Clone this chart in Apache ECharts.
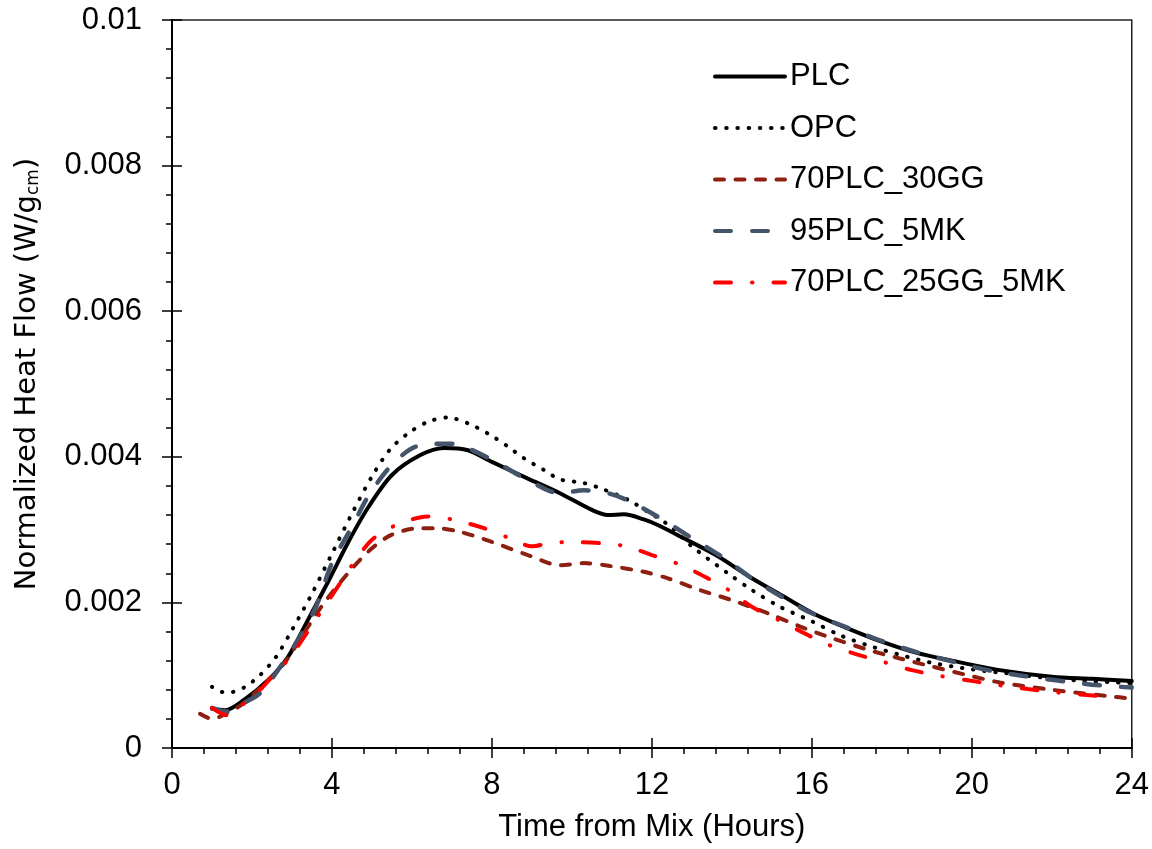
<!DOCTYPE html>
<html>
<head>
<meta charset="utf-8">
<script src="https://cdn.jsdelivr.net/npm/echarts@6/dist/echarts.min.js"></script>
<style>
	html, body { margin: 0; padding: 0; background: #fff; }
	#chart { width: 1152px; height: 849px; }
</style>
</head>
<body>
<div id="chart"></div>
<script>
var seriesNames = ["PLC", "OPC", "70PLC_30GG", "95PLC_5MK", "70PLC_25GG_5MK"];

var plcTime = [1.0, 1.33, 1.8, 2.4, 2.9, 3.4, 3.9, 4.4, 4.9, 5.5, 6.2, 6.8, 7.4, 8.0, 8.9, 9.7, 10.5, 10.9, 11.3, 11.8, 12.2, 12.8, 13.6, 14.45, 15.3, 16.1, 17.0, 17.8, 18.6, 19.5, 20.7, 22.0, 23.0, 24];
var plcFlow = [0.00054, 0.00052, 0.00066, 0.00093, 0.00125, 0.00176, 0.00228, 0.00282, 0.00330, 0.00375, 0.00402, 0.00412, 0.00409, 0.00393, 0.00370, 0.00350, 0.00327, 0.00320, 0.00321, 0.00314, 0.00305, 0.00288, 0.00265, 0.00235, 0.00208, 0.00183, 0.00162, 0.00145, 0.00131, 0.00120, 0.00107, 0.00098, 0.00095, 0.00092];

var opcTime = [1.0, 1.25, 1.5, 1.8, 2.2, 2.6, 3.0, 3.5, 4.0, 4.5, 5.0, 5.45, 5.9, 6.4, 6.9, 7.4, 7.9, 8.4, 8.8, 9.3, 9.7, 10.3, 10.8, 11.4, 12.0, 12.45, 13.0, 13.9, 14.5, 15.2, 16.0, 16.7, 17.4, 18.2, 19.0, 20.0, 20.8, 21.9, 22.6, 24];
var opcFlow = [0.00084, 0.00077, 0.00077, 0.00083, 0.00100, 0.00125, 0.00162, 0.00212, 0.00267, 0.00322, 0.00373, 0.00410, 0.00432, 0.00448, 0.00454, 0.00446, 0.00432, 0.00414, 0.00398, 0.00382, 0.00369, 0.00364, 0.00355, 0.00341, 0.00321, 0.00305, 0.00277, 0.00240, 0.00217, 0.00194, 0.00174, 0.00155, 0.00141, 0.00128, 0.00117, 0.00108, 0.00103, 0.00096, 0.00093, 0.00089];

var ggTime = [0.7, 1.0, 1.35, 1.75, 2.2, 2.8, 3.3, 3.8, 4.4, 4.95, 5.5, 6.2, 6.6, 7.2, 8.0, 8.9, 9.7, 10.3, 10.95, 11.8, 12.4, 13.2, 14.0, 14.9, 15.7, 16.5, 17.4, 18.2, 19.0, 19.9, 20.7, 22.0, 23.6, 24];
var ggFlow = [0.00047, 0.00040, 0.00047, 0.00060, 0.00082, 0.00116, 0.00158, 0.00199, 0.00240, 0.00272, 0.00293, 0.00302, 0.00302, 0.00297, 0.00283, 0.00265, 0.00251, 0.00254, 0.00250, 0.00242, 0.00233, 0.00217, 0.00203, 0.00185, 0.00167, 0.00151, 0.00135, 0.00123, 0.00112, 0.00100, 0.00090, 0.00080, 0.00070, 0.00068];

var mkTime = [1.0, 1.37, 1.87, 2.2, 2.6, 3.2, 3.6, 4.0, 4.5, 4.9, 5.45, 6.1, 6.95, 7.3, 8.0, 8.9, 9.7, 10.3, 10.9, 11.4, 12.2, 12.95, 13.8, 14.5, 15.3, 16.0, 17.0, 17.8, 18.6, 19.5, 20.4, 21.3, 22.1, 23.0, 24];
var mkFlow = [0.00055, 0.00050, 0.00064, 0.00075, 0.00103, 0.00153, 0.00194, 0.00254, 0.00304, 0.00345, 0.00386, 0.00414, 0.00418, 0.00414, 0.00396, 0.00368, 0.00350, 0.00354, 0.00350, 0.00340, 0.00316, 0.00290, 0.00261, 0.00233, 0.00206, 0.00185, 0.00163, 0.00146, 0.00132, 0.00119, 0.00107, 0.00099, 0.00093, 0.00087, 0.00083];

var redTime = [1.0, 1.37, 1.8, 2.2, 2.5, 2.9, 3.2, 3.7, 4.2, 4.5, 5.0, 5.6, 6.4, 7.0, 7.8, 8.45, 9.0, 9.4, 9.9, 10.8, 11.35, 12.0, 12.7, 13.4, 13.95, 14.5, 15.2, 15.8, 16.45, 17.1, 17.8, 18.5, 19.2, 19.9, 20.6, 21.4, 22.0, 22.8, 23.5];
var redFlow = [0.00055, 0.00045, 0.00061, 0.00080, 0.00098, 0.00121, 0.00144, 0.00185, 0.00226, 0.00251, 0.00286, 0.00306, 0.00318, 0.00314, 0.00302, 0.00288, 0.00277, 0.00281, 0.00283, 0.00281, 0.00277, 0.00265, 0.00252, 0.00233, 0.00216, 0.00194, 0.00175, 0.00158, 0.00141, 0.00129, 0.00118, 0.00107, 0.00099, 0.00093, 0.00087, 0.00081, 0.00077, 0.00073, 0.00070];

var xTicks = { min: 0, max: 24, interval: 4 };
var yTicks = { min: 0, max: 0.01, interval: 0.002 };

var font = "Liberation Sans";

function pairs(t, v) {
	return t.map(function(x, i) { return [x, v[i]]; });
}

function line(name, t, v, color, width, dash) {
	return {
		name: name,
		type: "line",
		data: pairs(t, v),
		smooth: 0.3,
		showSymbol: false,
		symbol: "none",
		lineStyle: { color: color, width: width, type: dash, cap: "round" },
		itemStyle: { color: color }
	};
}

function xAxisDef(inner) {
	return {
		type: "value", min: xTicks.min, max: xTicks.max, interval: xTicks.interval,
		position: "bottom",
		axisLine: { show: true, lineStyle: { color: "#000", width: 2 } },
		axisTick: { show: true, inside: inner, length: 10, lineStyle: { color: "#000", width: 1.5 } },
		minorTick: { show: !inner, splitNumber: 5, length: 6, lineStyle: { color: "#000", width: 1.5 } },
		splitLine: { show: false },
		axisLabel: { show: !inner, fontSize: 31, fontFamily: font, color: "#000", margin: 22 },
		name: inner ? "" : "Time from Mix (Hours)",
		nameLocation: "middle",
		nameGap: 64,
		nameTextStyle: { fontSize: 31, fontFamily: font, color: "#000" }
	};
}

function yAxisDef(inner) {
	return {
		type: "value", min: yTicks.min, max: yTicks.max, interval: yTicks.interval,
		position: "left",
		axisLine: { show: true, lineStyle: { color: "#000", width: 2 } },
		axisTick: { show: true, inside: inner, length: 10, lineStyle: { color: "#000", width: 1.5 } },
		minorTick: { show: !inner, splitNumber: 5, length: 6, lineStyle: { color: "#000", width: 1.5 } },
		splitLine: { show: false },
		axisLabel: {
			show: !inner, fontSize: 31, fontFamily: font, color: "#000", margin: 30,
			formatter: function(v) { return v === 0 ? "0" : String(+v.toFixed(4)); }
		},
		name: inner ? "" : "Normalized Heat Flow (W/g{sub|cm})",
		nameLocation: "middle",
		nameGap: 130,
		nameTextStyle: {
			fontSize: 29, fontFamily: "DejaVu Sans", color: "#000", padding: [0, 0, 0, 20],
			rich: { sub: { fontSize: 17, fontFamily: "DejaVu Sans", color: "#000", padding: [12, 0, 0, 0] } }
		}
	};
}

var chart = echarts.init(document.getElementById("chart"), null, { renderer: "canvas" });
chart.setOption({
	animation: false,
	backgroundColor: "#fff",
	grid: { left: 172, right: 20, top: 20, bottom: 101, show: true, borderColor: "#222", borderWidth: 1.5, backgroundColor: "transparent" },
	legend: {
		orient: "vertical",
		left: 708,
		top: 56,
		itemWidth: 70,
		itemHeight: 14,
		itemGap: 20.5,
		data: seriesNames,
		itemStyle: { opacity: 0, color: "transparent", borderWidth: 0 },
		lineStyle: { width: 4 },
		textStyle: { fontSize: 31, fontFamily: font, color: "#000", lineHeight: 31 }
	},
	xAxis: [xAxisDef(false), xAxisDef(true)],
	yAxis: [yAxisDef(false), yAxisDef(true)],
	series: [
		line("PLC", plcTime, plcFlow, "#000000", 4, "solid"),
		line("OPC", opcTime, opcFlow, "#000000", 4, [0.5, 10.7]),
		line("70PLC_30GG", ggTime, ggFlow, "#8E2012", 4, [9, 11.5]),
		line("95PLC_5MK", mkTime, mkFlow, "#44546A", 4.5, [16, 21]),
		line("70PLC_25GG_5MK", redTime, redFlow, "#FF0000", 4, [16, 21, 0.5, 21])
	]
});
</script>
</body>
</html>
